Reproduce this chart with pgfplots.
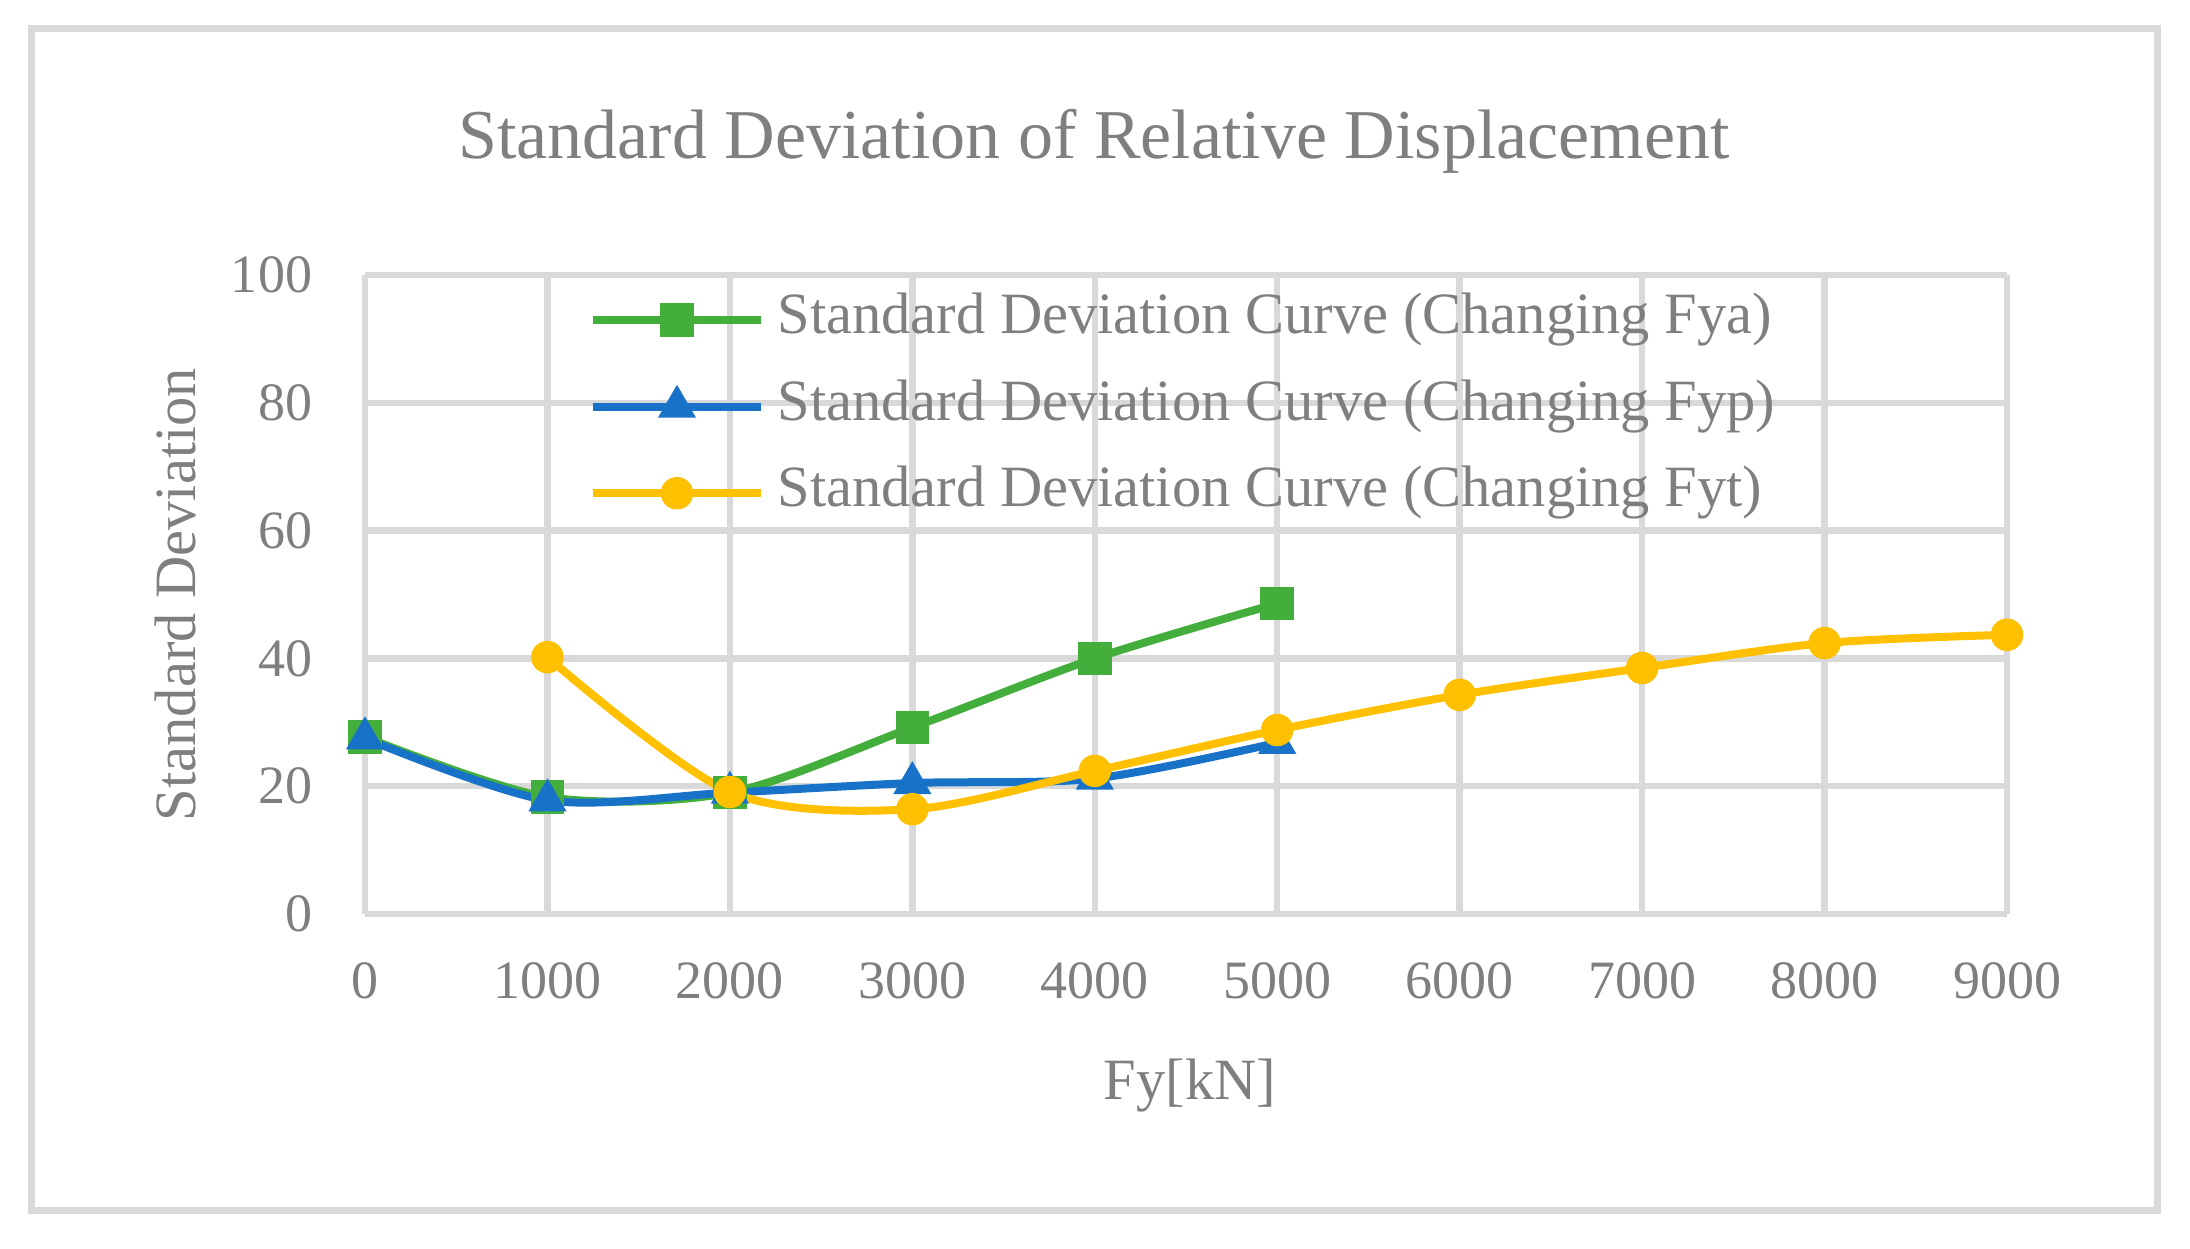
\documentclass[border=0pt]{standalone}
\usepackage{pgfplots}
\pgfplotsset{compat=1.18}
\usepackage{fontspec}
\setmainfont{Liberation Serif}
\definecolor{gridgray}{HTML}{D9D9D9}
\definecolor{textgray}{HTML}{7F7F7F}
\definecolor{sgreen}{HTML}{44AE3C}
\definecolor{sblue}{HTML}{1873C8}
\definecolor{syellow}{HTML}{FFC000}
\begin{document}
\begin{tikzpicture}
\useasboundingbox (-73pt,-66.8pt) rectangle (365pt,182.8pt);
\draw[gridgray, line width=1.4pt] (-66.7pt,-59.2pt) rectangle (358.4pt,177.2pt);
\begin{axis}[
  at={(0,0)}, anchor=south west,
  scale only axis, width=328.4pt, height=127.8pt,
  xmin=0, xmax=9000, ymin=0, ymax=100,
  xtick={0,1000,...,9000}, ytick={0,20,...,100},
  scaled x ticks=false,
  /pgf/number format/1000 sep={},
  /pgf/number format/assume math mode=true,
  grid=major, grid style={color=gridgray, line width=1.3pt},
  axis line style={draw=none}, major tick length=0pt, tick style={draw=none},
  clip=false,
  ticklabel style={font=\fontsize{10.8}{13}\selectfont, text=textgray, inner sep=0pt},
  xticklabel style={anchor=north, yshift=-9.6pt},
  yticklabel style={anchor=east, xshift=-10.4pt},
  title={Standard Deviation of Relative Displacement},
  every axis title/.style={at={(rel axis cs:0.444,1)}, anchor=base, yshift=23.4pt, font=\fontsize{14}{17}\selectfont, text=textgray, inner sep=0pt},
  xlabel={Fy[kN]},
  ylabel={Standard Deviation},
  every axis x label/.style={at={(rel axis cs:0.5024,0)}, anchor=base, yshift=-37pt, font=\fontsize{11.7}{14}\selectfont, text=textgray, inner sep=0pt},
  every axis y label/.style={at={(rel axis cs:0,0.5)}, anchor=base, rotate=90, yshift=34pt, font=\fontsize{11.7}{14}\selectfont, text=textgray, inner sep=0pt},
  legend style={draw=none, fill=none, inner sep=0pt, row sep=6pt, column sep=2.5pt,
    at={(rel axis cs:0.1358,0.975)}, anchor=north west,
    font=\fontsize{11.7}{14}\selectfont, text=textgray,
    nodes={inner sep=0pt, text height=8.4pt, text depth=2.9pt}},
  legend cell align=left,
  legend image code/.code={\draw[mark repeat=2,mark phase=2] plot coordinates {(0pt,0pt) (16.8pt,0pt) (33.6pt,0pt)};},
  every axis plot/.append style={line width=1.6pt, smooth},
]
\addplot[color=sgreen, mark=square*, mark size=3.1pt, mark options={solid, fill=sgreen, draw=sgreen, line width=0.5pt}]
  coordinates {(0,27.7) (1000,18.3) (2000,19.0) (3000,29.2) (4000,40.0) (5000,48.6)};
\addlegendentry{Standard Deviation Curve (Changing Fya)}
\addplot[color=sblue, mark=triangle*, mark size=3.9pt, mark options={solid, fill=sblue, draw=sblue, line width=0.5pt}]
  coordinates {(0,27.5) (1000,17.8) (2000,19.0) (3000,20.5) (4000,21.2) (5000,26.8)};
\addlegendentry{Standard Deviation Curve (Changing Fyp)}
\addplot[color=syellow, mark=*, mark size=3pt, mark options={solid, fill=syellow, draw=syellow, line width=0.5pt}]
  coordinates {(1000,40.2) (2000,19.1) (3000,16.4) (4000,22.4) (5000,28.8) (6000,34.3) (7000,38.5) (8000,42.4) (9000,43.7)};
\addlegendentry{Standard Deviation Curve (Changing Fyt)}
\end{axis}
\end{tikzpicture}
\end{document}
